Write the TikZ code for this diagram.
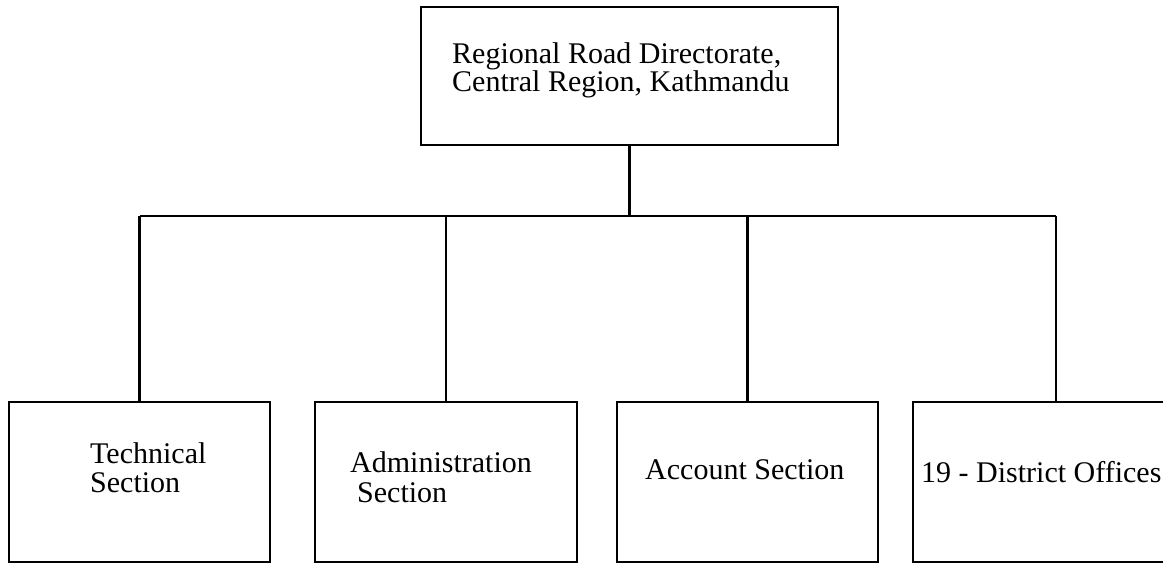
\documentclass[tikz,border=0pt]{standalone}
\usepackage{fontspec}
\setmainfont{Liberation Serif}
\begin{document}
\begin{tikzpicture}[x=1pt,y=1pt,
  box/.style={draw=black, line width=2.2pt, rectangle, inner sep=0pt},
  lbl/.style={anchor=base west, align=left, inner sep=0pt, font=\fontsize{30}{29}\selectfont},
  conn/.style={draw=black, line width=2.2pt}]
\useasboundingbox (0,0) rectangle (1163,-564);
% boxes
\node[box, minimum width=417pt, minimum height=138pt] (top) at (629.5,-76) {};
\node[box, minimum width=261pt, minimum height=160pt] (b1) at (139.5,-482) {};
\node[box, minimum width=262pt, minimum height=160pt] (b2) at (446,-482) {};
\node[box, minimum width=261pt, minimum height=160pt] (b3) at (747.5,-482) {};
\node[box, minimum width=286pt, minimum height=160pt] (b4) at (1056,-482) {};
% labels (base anchor = baseline of the last line)
\node[lbl, font=\fontsize{30}{27}\selectfont] (ttop) at (452,-92) {Regional Road Directorate,\\Central Region, Kathmandu};
\node[lbl] (t1) at (90,-492) {Technical\\Section};
\node[lbl, font=\fontsize{30}{30}\selectfont] (t2) at (350,-502) {Administration\\\hspace*{7pt}Section};
\node[lbl] (t3) at (645,-479) {Account Section};
\node[lbl] (t4) at (921,-482) {19 - District Offices};
% connectors
\coordinate (bus) at (629,-216);
\draw[conn] (top.south) -- (top.south |- bus);
\draw[conn] (b1.north |- bus) -- (b4.north |- bus);
\foreach \b in {b1,b2,b3,b4} \draw[conn] (\b.north |- bus) -- (\b.north);
\end{tikzpicture}
\end{document}
